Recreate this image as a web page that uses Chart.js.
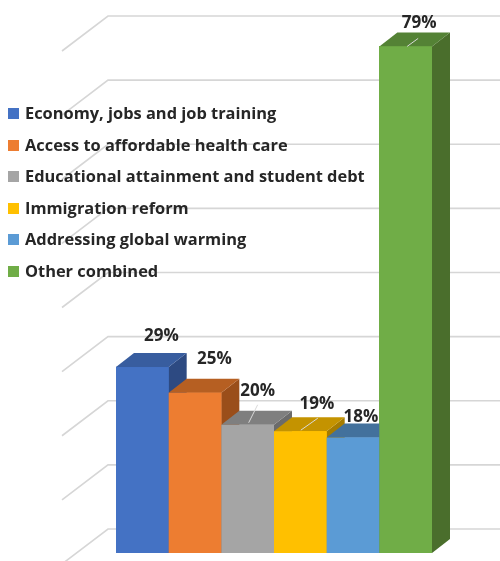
<!DOCTYPE html>
<html>
<head>
<meta charset="utf-8">
<script src="https://cdn.jsdelivr.net/npm/chart.js@4/dist/chart.umd.min.js"></script>
<style>
  html, body { margin: 0; padding: 0; background: #fff; }
  #wrap { position: relative; width: 500px; height: 561px; overflow: hidden; }
  canvas { position: absolute; left: 0; top: 0; }
  #legend { position: absolute; left: 8px; top: 103px; font-family: "Open Sans", Lato, sans-serif; font-weight: bold; font-size: 16.4px; color: #262626; }
  .item { position: relative; height: 31.5px; line-height: 21px; white-space: nowrap; }
  .sw { position: absolute; left: 0; top: 5px; width: 11px; height: 11px; }
  .tx { position: absolute; left: 17px; top: -1px; }
</style>
</head>
<body>
<div id="wrap">
  <canvas id="c" width="500" height="561"></canvas>
  <div id="legend"></div>
</div>
<script>
// ---- data ----
const categories = ["Economy, jobs and job training", "Access to affordable health care", "Educational attainment and student debt", "Immigration reform", "Addressing global warming", "Other combined"];
const values = [29, 25, 20, 19, 18, 79];
const gridTicks = [0, 10, 20, 30, 40, 50, 60, 70, 80];

// ---- styles ----
const frontColors = ["#4472C4", "#ED7D31", "#A5A5A5", "#FFC000", "#5B9BD5", "#70AD47"];
const topColors   = ["#385D9F", "#B65F22", "#7F7F7F", "#C49300", "#43719C", "#548235"];
const sideColors  = ["#2D4A82", "#9A4E1A", "#6B6B6B", "#A67C00", "#3A648C", "#4A6E2C"];
const labelOffsets = [[19, -31], [19.5, -34], [10, -34], [16.5, -27], [8, -20], [13.5, -23]];
const leaders = [null, null, [10, -20, 1, -2], [17.5, -13, 0.5, -1], null, [12.5, -8, 1.5, 0]];
const DEPTH_X = 18, DEPTH_Y = -14;      // bar depth
const WALL_DY = -24;                    // back wall vertical shift
const SIDE_DX = -46, SIDE_DY = 35;      // side wall diagonal

// legend (HTML text)
const leg = document.getElementById('legend');
categories.forEach((c, i) => {
  const d = document.createElement('div');
  d.className = 'item';
  d.innerHTML = '<span class="sw" style="background:' + frontColors[i] + '"></span><span class="tx"></span>';
  d.querySelector('.tx').textContent = c;
  leg.appendChild(d);
});

const threeD = {
  id: 'threeD',
  beforeDatasetsDraw(chart) {
    const ctx = chart.ctx, ys = chart.scales.y, ca = chart.chartArea;
    ctx.save();
    ctx.strokeStyle = '#D6D6D6';
    ctx.lineWidth = 1.6;
    const wallLeft = ca.left - 8;
    gridTicks.forEach(t => {
      const y = ys.getPixelForValue(t) + WALL_DY;
      ctx.beginPath();
      ctx.moveTo(wallLeft + SIDE_DX, y + SIDE_DY);
      ctx.lineTo(wallLeft, y);
      ctx.lineTo(chart.width + 5, y);
      ctx.stroke();
    });
    ctx.restore();
  },
  afterDatasetsDraw(chart) {
    const ctx = chart.ctx;
    ctx.save();
    chart.data.datasets.forEach((ds, i) => {
      const bar = chart.getDatasetMeta(i).data[0];
      const l = bar.x - bar.width / 2, r = bar.x + bar.width / 2, t = bar.y, b = bar.base;
      // side
      ctx.fillStyle = sideColors[i];
      ctx.beginPath();
      ctx.moveTo(r, t); ctx.lineTo(r + DEPTH_X, t + DEPTH_Y);
      ctx.lineTo(r + DEPTH_X, b + DEPTH_Y); ctx.lineTo(r, b); ctx.closePath(); ctx.fill();
      // top
      ctx.fillStyle = topColors[i];
      ctx.beginPath();
      ctx.moveTo(l, t); ctx.lineTo(r, t);
      ctx.lineTo(r + DEPTH_X, t + DEPTH_Y); ctx.lineTo(l + DEPTH_X, t + DEPTH_Y); ctx.closePath(); ctx.fill();
      // front
      ctx.fillStyle = frontColors[i];
      ctx.fillRect(l, t, r - l, b - t);
    });
    // labels
    ctx.font = 'bold 17px "Open Sans", Lato, sans-serif';
    ctx.fillStyle = '#262626';
    ctx.textAlign = 'center';
    ctx.textBaseline = 'middle';
    chart.data.datasets.forEach((ds, i) => {
      const bar = chart.getDatasetMeta(i).data[0];
      const o = labelOffsets[i];
      const ld = leaders[i];
      if (ld) {
        ctx.strokeStyle = '#D9D9D9';
        ctx.lineWidth = 1;
        ctx.beginPath();
        ctx.moveTo(bar.x + ld[0], bar.y + ld[1]);
        ctx.lineTo(bar.x + ld[2], bar.y + ld[3]);
        ctx.stroke();
      }
      ctx.fillText(ds.data[0] + '%', bar.x + o[0], bar.y + o[1]);
    });
    ctx.restore();
  }
};

new Chart(document.getElementById('c'), {
  type: 'bar',
  data: {
    labels: [''],
    datasets: categories.map((c, i) => ({
      label: c,
      data: [values[i]],
      backgroundColor: frontColors[i],
      borderWidth: 0,
      categoryPercentage: 1,
      barPercentage: 1
    }))
  },
  options: {
    responsive: false,
    animation: false,
    layout: { padding: { left: 116, right: 68, top: 40, bottom: 8 } },
    plugins: { legend: { display: false }, tooltip: { enabled: false } },
    scales: {
      x: { display: false },
      y: { display: false, min: 0, max: 80 }
    }
  },
  plugins: [threeD]
});
</script>
</body>
</html>
